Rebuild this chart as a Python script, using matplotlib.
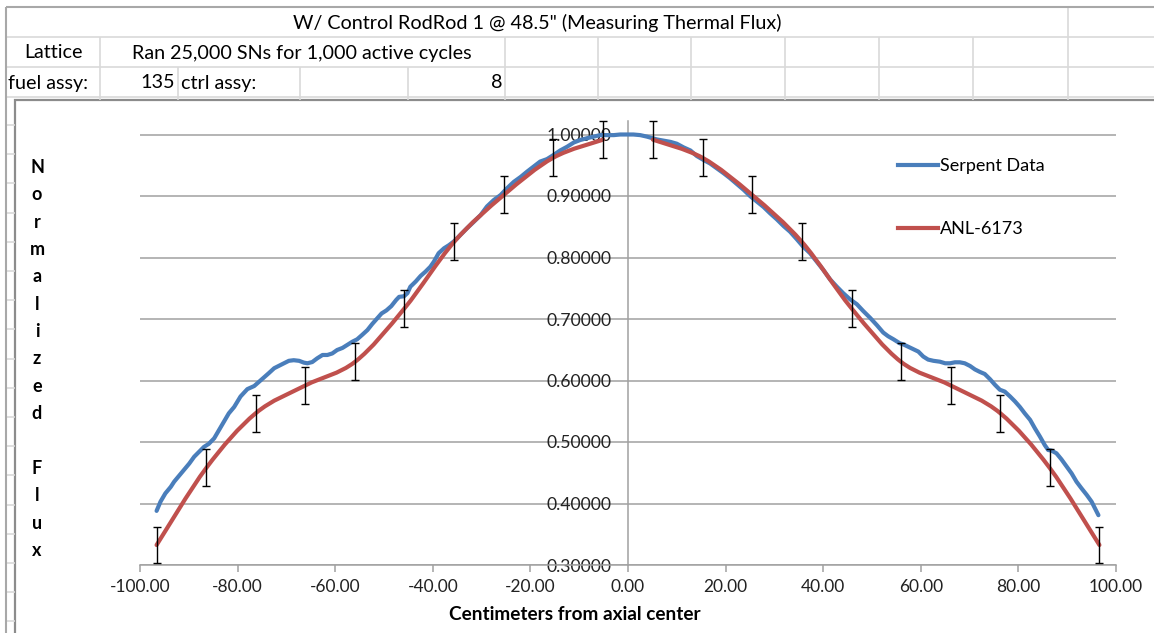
import numpy as np
import matplotlib
matplotlib.use("Agg")
import matplotlib.pyplot as plt
from matplotlib.path import Path
from matplotlib.patches import PathPatch, Rectangle
from matplotlib.lines import Line2D
from matplotlib.ticker import FuncFormatter

plt.rcParams["font.family"] = ["Lato", "DejaVu Sans"]

# ---- data ----
serpent_x = [
    -96.6, -95.8, -94.8, -93.7, -93.0, -92.0, -91.0, -89.9, -88.9, -87.9,
    -86.9, -85.9, -84.8, -83.8, -82.8, -81.8, -80.7, -79.4, -78.0, -76.6,
    -75.6, -74.6, -73.6, -72.5, -71.5, -70.5, -69.5, -68.5, -67.4, -66.4,
    -65.7, -64.7, -63.7, -62.6, -61.6, -60.6, -59.6, -58.5, -57.5, -56.5,
    -55.5, -54.5, -53.4, -52.4, -51.4, -50.5, -49.5, -48.5, -47.5, -46.9,
    -45.9, -45.2, -44.6, -43.5, -42.5, -41.5, -40.5, -39.8, -38.8, -37.7,
    -36.7, -35.7, -34.3, -33.0, -31.6, -30.2, -28.9, -27.5, -26.1, -24.8,
    -23.4, -22.0, -20.7, -19.3, -18.0, -16.6, -15.2, -13.9, -12.5, -11.1,
    -9.8, -8.4, -7.0, -5.7, -4.3, -2.9, -1.6, -0.2, 1.1, 2.5,
    3.9, 5.0, 5.9, 7.3, 8.7, 10.0, 11.4, 12.8, 14.1, 15.5,
    16.8, 18.2, 19.6, 20.9, 22.3, 23.7, 25.0, 26.4, 27.8, 29.1,
    30.5, 31.9, 33.2, 34.6, 35.9, 37.3, 38.7, 40.0, 41.4, 42.8,
    44.1, 45.5, 46.9, 48.2, 49.6, 51.0, 52.3, 53.3, 54.4, 55.7,
    56.4, 57.4, 58.5, 59.5, 60.5, 61.5, 62.6, 63.9, 65.0, 66.0,
    67.0, 68.0, 69.0, 70.1, 71.1, 72.1, 73.1, 74.2, 75.2, 76.2,
    77.2, 78.3, 79.3, 80.3, 81.3, 82.4, 83.4, 84.4, 85.4, 86.1,
    86.8, 87.8, 88.8, 89.9, 90.9, 91.9, 92.9, 94.0, 95.0, 95.7,
    96.4,
]
serpent_y = [
    0.388, 0.403, 0.4165, 0.427, 0.4355, 0.445, 0.4545, 0.465, 0.476, 0.484,
    0.492, 0.497, 0.506, 0.5195, 0.533, 0.5466, 0.557, 0.574, 0.586, 0.591,
    0.598, 0.605, 0.612, 0.620, 0.624, 0.628, 0.632, 0.633, 0.632, 0.629,
    0.628, 0.630, 0.636, 0.6415, 0.6415, 0.644, 0.6496, 0.653, 0.658, 0.663,
    0.667, 0.674, 0.682, 0.692, 0.701, 0.709, 0.714, 0.721, 0.731, 0.736,
    0.737, 0.742, 0.7525, 0.761, 0.770, 0.777, 0.785, 0.793, 0.807, 0.815,
    0.820, 0.826, 0.837, 0.8475, 0.858, 0.869, 0.883, 0.8935, 0.9016, 0.9125,
    0.923, 0.931, 0.9395, 0.948, 0.956, 0.960, 0.967, 0.974, 0.980, 0.987,
    0.991, 0.994, 0.9965, 0.999, 0.999, 0.999, 1.000, 1.000, 1.000, 0.999,
    0.9965, 0.994, 0.992, 0.990, 0.988, 0.985, 0.979, 0.974, 0.965, 0.9585,
    0.953, 0.945, 0.937, 0.929, 0.9195, 0.910, 0.900, 0.891, 0.882, 0.872,
    0.862, 0.851, 0.842, 0.8296, 0.8176, 0.807, 0.793, 0.780, 0.7645, 0.7525,
    0.742, 0.732, 0.724, 0.713, 0.702, 0.690, 0.678, 0.672, 0.667, 0.6605,
    0.6588, 0.655, 0.6507, 0.647, 0.639, 0.634, 0.632, 0.6306, 0.628, 0.628,
    0.6296, 0.6296, 0.628, 0.6236, 0.618, 0.614, 0.6106, 0.602, 0.593, 0.585,
    0.582, 0.574, 0.566, 0.557, 0.5466, 0.536, 0.522, 0.509, 0.495, 0.487,
    0.486, 0.4816, 0.472, 0.460, 0.449, 0.4355, 0.425, 0.414, 0.403, 0.392,
    0.381,
]

# ANL-6173 has an empty cell at the centre, so two runs
anl_x_left = [-96.6, -86.4, -76.3, -66.1, -55.9, -45.8, -35.6, -25.4, -15.3, -5.1]
anl_y_left = [0.3325, 0.458, 0.5467, 0.592, 0.6306, 0.7174, 0.8257, 0.902, 0.9623, 0.9916]
anl_x_right = [5.1, 15.3, 25.4, 35.6, 45.8, 55.9, 66.1, 76.3, 86.4, 96.6]
anl_y_right = [0.9916, 0.962, 0.902, 0.8257, 0.7174, 0.6306, 0.592, 0.5467, 0.458, 0.3325]
anl_err = 0.03

x_ticks = [-100, -80, -60, -40, -20, 0, 20, 40, 60, 80, 100]
y_ticks = [0.3, 0.4, 0.5, 0.6, 0.7, 0.8, 0.9, 1.0]

sheet_title = 'W/ Control RodRod 1 @ 48.5" (Measuring Thermal Flux)'
sheet_row2 = ["Lattice", "Ran 25,000 SNs for 1,000 active cycles"]
sheet_row3 = ["fuel assy:", "135", "ctrl assy:", "8"]
ylabel_word = "Normalized Flux"

BLUE = "#4a7ebb"
RED = "#c0504d"
GRID = "#a0a0a0"
CELL = "#d9d9d9"

W, H = 1154, 633


def smooth_path(xs, ys):
    # Excel-style smoothed line: Catmull-Rom segments as cubic Beziers
    pts = np.column_stack([xs, ys]).astype(float)
    n = len(pts)
    verts = [pts[0]]
    codes = [Path.MOVETO]
    for i in range(n - 1):
        p0 = pts[i - 1] if i > 0 else pts[i]
        p1 = pts[i]
        p2 = pts[i + 1]
        p3 = pts[i + 2] if i + 2 < n else pts[i + 1]
        verts += [p1 + (p2 - p0) / 6, p2 - (p3 - p1) / 6, p2]
        codes += [Path.CURVE4] * 3
    return Path(verts, codes)


fig = plt.figure(figsize=(W / 100, H / 100), dpi=100)
fig.patch.set_facecolor("white")

# ---- spreadsheet background, pixel coordinates ----
bg = fig.add_axes([0, 0, 1, 1])
bg.set_xlim(0, W)
bg.set_ylim(H, 0)
bg.set_axis_off()

col_r2 = [100, 505, 598, 691, 785, 879, 973, 1068]
col_r3 = [100, 178, 300, 408, 505, 598, 691, 785, 879, 973, 1068]
bg.hlines([36.7, 66.7, 96.7], 5.7, W, color=CELL, lw=1.2)
bg.vlines([1068], 7.3, 36.7, color=CELL, lw=1.2)
bg.vlines(col_r2, 36.7, 66.7, color=CELL, lw=1.2)
bg.vlines(col_r3, 66.7, 100, color=CELL, lw=1.2)
bg.hlines(np.arange(125, H, 29.2), 5.7, 15, color=CELL, lw=1.2)
bg.hlines([7.3], 5.7, W, color="#a8a8a8", lw=1.5)
bg.vlines([5.7], 7.3, H, color="#a8a8a8", lw=1.5)

fs_cell = 14.2
bg.text(537, 23, sheet_title, ha="center", va="center", fontsize=fs_cell)
bg.text(53, 53, sheet_row2[0], ha="center", va="center", fontsize=fs_cell)
bg.text(302, 53, sheet_row2[1], ha="center", va="center", fontsize=fs_cell)
bg.text(8, 83, sheet_row3[0], ha="left", va="center", fontsize=fs_cell)
bg.text(175, 83, sheet_row3[1], ha="right", va="center", fontsize=fs_cell)
bg.text(181, 83, sheet_row3[2], ha="left", va="center", fontsize=fs_cell)
bg.text(502, 83, sheet_row3[3], ha="right", va="center", fontsize=fs_cell)

# chart area
bg.add_patch(Rectangle((15, 100), W, H, facecolor="white", edgecolor="#8c8c8c", lw=1.6))

# stacked vertical axis title
letters = "\n".join(ylabel_word)
bg.text(37, 359, letters, ha="center", va="center", fontsize=13,
        fontweight="bold", linespacing=1.74)

bg.text(575, 614, "Centimeters from axial center", ha="center", va="center",
        fontsize=13.7, fontweight="bold")

# ---- plot area ----
y_lo, y_hi = 0.3, 1.022
px_per_unit = 615
left, right, bottom = 140, 1116, 565
ax = fig.add_axes([left / W, (H - bottom) / H, (right - left) / W,
                   (y_hi - y_lo) * px_per_unit / H])
ax.set_facecolor("none")
ax.set_xlim(-100, 100)
ax.set_ylim(y_lo, y_hi)

ax.set_yticks(y_ticks)
ax.set_xticks(x_ticks)
ax.grid(axis="y", color=GRID, lw=1.1)
ax.set_axisbelow(True)
for side in ("top", "right"):
    ax.spines[side].set_visible(False)
ax.spines["left"].set_position(("data", 0))
ax.spines["left"].set_color(GRID)
ax.spines["left"].set_linewidth(1.1)
ax.spines["bottom"].set_color(GRID)
ax.spines["bottom"].set_linewidth(1.1)
ax.tick_params(axis="y", length=0, pad=12, labelsize=12.7, labelcolor="#222222")
ax.tick_params(axis="x", length=5, width=1.1, color=GRID, pad=5,
               labelsize=12.5, labelcolor="#222222")
ax.xaxis.set_major_formatter(FuncFormatter(lambda v, p: f"{v:.2f}"))
ax.yaxis.set_major_formatter(FuncFormatter(lambda v, p: f"{v:.5f}"))

ax.plot(serpent_x, serpent_y, color=BLUE, lw=3.0, solid_capstyle="round",
        solid_joinstyle="round", zorder=3)
for xs, ys in ((anl_x_left, anl_y_left), (anl_x_right, anl_y_right)):
    ax.add_patch(PathPatch(smooth_path(xs, ys), fill=False, edgecolor=RED,
                           lw=3.0, capstyle="round", zorder=4))
    ax.errorbar(xs, ys, yerr=anl_err, fmt="none", ecolor="black", elinewidth=1.0,
                capsize=2.9, capthick=1.0, zorder=5, clip_on=False)

handles = [Line2D([], [], color=BLUE, lw=3.0), Line2D([], [], color=RED, lw=3.0)]
ax.legend(handles, ["Serpent Data", "ANL-6173"], loc="upper left",
          bbox_to_anchor=(898 / W, 1 - 158 / H), bbox_transform=fig.transFigure,
          frameon=False, fontsize=13, handlelength=2.2, handletextpad=0.1,
          labelspacing=2.6, borderpad=0, borderaxespad=0)

fig.savefig("out.png", dpi=100)
